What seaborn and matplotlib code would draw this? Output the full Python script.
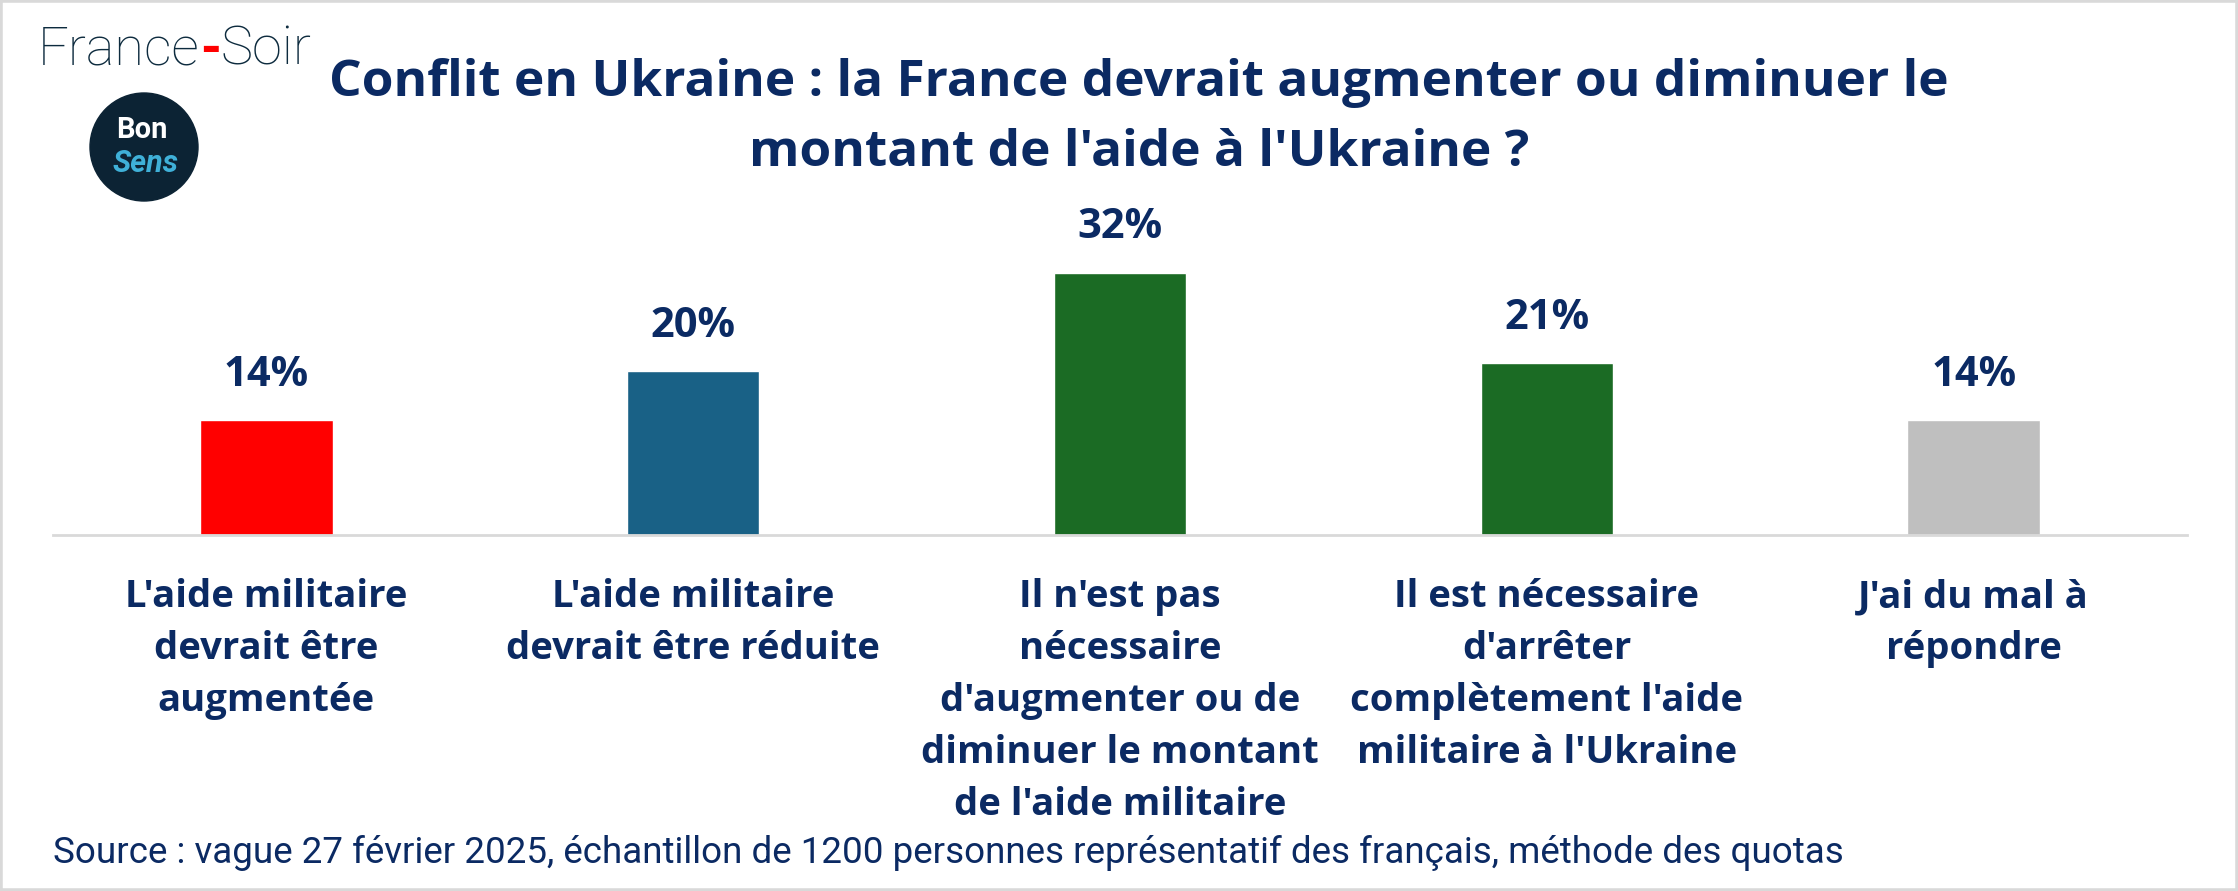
import matplotlib.pyplot as plt
import matplotlib.patches as mpatches
import seaborn as sns
import pandas as pd

categories = [
    "L'aide militaire\ndevrait être\naugmentée",
    "L'aide militaire\ndevrait être réduite",
    "Il n'est pas\nnécessaire\nd'augmenter ou de\ndiminuer le montant\nde l'aide militaire",
    "Il est nécessaire\nd'arrêter\ncomplètement l'aide\nmilitaire à l'Ukraine",
    "J'ai du mal à\nrépondre",
]
values = [14, 20, 32, 21, 14]
colors = ["#ff0000", "#196186", "#1b6b24", "#1b6b24", "#bfbfbf"]

title = "Conflit en Ukraine : la France devrait augmenter ou diminuer le\nmontant de l'aide à l'Ukraine ?"
source = ("Source : vague 27 février 2025, échantillon de 1200 personnes "
          "représentatif des français, méthode des quotas")

navy = "#0b2a63"
W, H = 2238, 891

sns.set_theme(style="white")
plt.rcParams["font.family"] = ["Open Sans", "DejaVu Sans"]

df = pd.DataFrame({"cat": categories, "val": values})

fig = plt.figure(figsize=(W / 100, H / 100), dpi=100)
ax = fig.add_axes([53 / W, (H - 535) / H, (2187 - 53) / W, (535 - 150) / H])

sns.barplot(data=df, x="cat", y="val", hue="cat", palette=colors,
            legend=False, width=0.31, saturation=1, ax=ax)

ax.set_xlim(-0.5, 4.5)
ax.set_ylim(0, (535 - 150) / (262 / 32))
ax.set_xlabel("")
ax.set_ylabel("")
ax.set_yticks([])
for s in ["top", "right", "left"]:
    ax.spines[s].set_visible(False)
ax.spines["bottom"].set_color("#d9d9d9")
ax.spines["bottom"].set_linewidth(2)

ax.tick_params(axis="x", length=0, pad=31)
for lab in ax.get_xticklabels():
    lab.set_fontsize(27.5)
    lab.set_fontweight("bold")
    lab.set_color(navy)
    lab.set_linespacing(1.48)
    lab.set_verticalalignment("top")

for i, v in enumerate(values):
    ax.text(i, v + 5.5, f"{v}%", ha="center", va="center", fontsize=30,
            fontweight="bold", color=navy)

fig.text(1139 / W, 1 - 118 / H, title, ha="center", va="center",
         fontsize=37, fontweight="bold", color=navy, linespacing=1.5)

fig.text(53 / W, 1 - 853 / H, source, ha="left", va="center", fontsize=26.5,
         color=navy, family=["Roboto", "DejaVu Sans"], stretch="condensed",
         zorder=10)

# France-Soir logo
logo_col = "#0d2b3e"
fs = 39
t1 = fig.text(38 / W, 1 - 50 / H, "France", ha="left", va="center", fontsize=fs,
              color=logo_col, fontweight="light", family=["Roboto", "DejaVu Sans"])
fig.canvas.draw()
bb = t1.get_window_extent()
t2 = fig.text(bb.x1 / W, 1 - 50 / H, "-", ha="left", va="center", fontsize=fs,
              color="#ff0000", fontweight="bold", family=["Roboto", "DejaVu Sans"])
bb2 = t2.get_window_extent()
fig.text(bb2.x1 / W, 1 - 50 / H, "Soir", ha="left", va="center", fontsize=fs,
         color=logo_col, fontweight="light", family=["Roboto", "DejaVu Sans"])

# Bon Sens badge
circ = mpatches.Ellipse((144 / W, 1 - 147 / H), 2 * 54 / W, 2 * 54 / H,
                        transform=fig.transFigure, color="#0c2334")
fig.patches.append(circ)
fig.text(142 / W, 1 - 130 / H, "Bon", ha="center", va="center", fontsize=21,
         color="white", fontweight="bold", family=["Roboto", "DejaVu Sans"])
fig.text(146 / W, 1 - 164 / H, "Sens", ha="center", va="center", fontsize=22,
         color="#3fb0d8", style="italic", fontweight="bold",
         family=["Roboto", "DejaVu Sans"])

# outer frame
frame = mpatches.Rectangle((0, 0), 1, 1, transform=fig.transFigure, fill=False,
                           edgecolor="#d9d9d9", linewidth=4)
fig.patches.append(frame)

fig.savefig("out.png", dpi=100)
